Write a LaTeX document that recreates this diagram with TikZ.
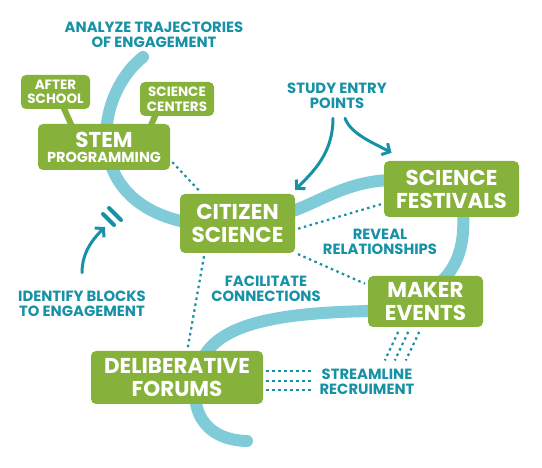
\documentclass[tikz,border=0pt]{standalone}
\usepackage{fontspec}
\setmainfont{Poppins}
\usetikzlibrary{arrows.meta,calc}
\definecolor{Leaf}{HTML}{86B13A}
\definecolor{Sky}{HTML}{7FCBD8}
\definecolor{Ocean}{HTML}{1791A6}

\begin{document}
\begin{tikzpicture}[x=1pt,y=-1pt,>={Straight Barb[length=6pt,width=13pt]},
    box/.style={fill=Leaf,rounded corners=5pt,text=white,align=center,inner sep=2pt,font=\bfseries\fontsize{21.5}{23}\selectfont},
    tag/.style={box,font=\bfseries\fontsize{13.5}{14.5}\selectfont},
    note/.style={text=Ocean,align=center,inner sep=0pt,font=\bfseries\fontsize{14.8}{15.5}\selectfont},
    link/.style={Ocean,line width=2.2pt,dash pattern=on 2.5pt off 3.5pt,shorten <=3pt,shorten >=3pt},
    pointer/.style={Ocean,line width=3pt,line cap=round,->},
    tail/.style={Leaf,line width=6pt,shorten <=-2pt,shorten >=-2pt},
    bar/.style={Ocean,line width=4pt,line cap=round},
    trail/.style={Sky,line width=12pt,line cap=round,line join=round}]
  \useasboundingbox (0,0) rectangle (542,468);
  % the winding trail behind the boxes
  \draw[trail] (143,57) .. controls (95,95) and (80,200) .. (185,222) -- (290,212)
    .. controls (320,202) and (345,182) .. (390,180) -- (462,200)
    .. controls (466,235) and (462,262) .. (441,282) -- (368,311)
    .. controls (290,313) and (215,320) .. (200,365)
    .. controls (185,410) and (205,440) .. (247,441);
  % boxes
  \node[tag,minimum width=69pt,minimum height=34pt] (after) at (55.5,92) {AFTER\\SCHOOL};
  \node[tag,minimum width=74pt,minimum height=34pt] (centers) at (177,99) {SCIENCE\\CENTERS};
  \node[box,minimum width=132pt,minimum height=46pt] (stem) at (104,147) {STEM\\[-8pt]{\fontsize{14.5}{15}\selectfont PROGRAMMING}};
  \node[box,minimum width=115pt,minimum height=59pt] (citizen) at (237.5,223.5) {CITIZEN\\SCIENCE};
  \node[box,minimum width=135pt,minimum height=56pt] (festivals) at (451.5,189) {SCIENCE\\FESTIVALS};
  \node[box,minimum width=115pt,minimum height=51pt] (maker) at (425.5,301.5) {MAKER\\EVENTS};
  \node[box,minimum width=172pt,minimum height=53pt] (forums) at (177,377.5) {DELIBERATIVE\\FORUMS};
  \draw[tail] (after.-63) -- (stem.145);
  \draw[tail] (centers.218) -- (stem.26);
  % labels
  \node[note] (analyze) at (154,35) {ANALYZE TRAJECTORIES\\OF ENGAGEMENT};
  \node[note] (study) at (337,96) {STUDY ENTRY\\POINTS};
  \node[note] (reveal) at (380,242) {REVEAL\\RELATIONSHIPS};
  \node[note] (facilitate) at (266,289) {FACILITATE\\CONNECTIONS};
  \node[note] (identify) at (82,304) {IDENTIFY BLOCKS\\TO ENGAGEMENT};
  \node[note] (streamline) at (367,382) {STREAMLINE\\RECRUIMENT};
  % dotted links
  \draw[link] (stem.-11) -- (citizen.140);
  \draw[link] (citizen.222) -- (forums.69);
  \draw[link] (citizen.-6) -- (festivals.192);
  \draw[link] (citizen.-27) -- (maker.164);
  \foreach \dx in {-26,-16,-5}
    \draw[link] ($(maker.south)+(\dx,2)$) -- ($(maker.south)+(\dx-16,36)$);
  \foreach \dy in {-6.5,3.5,12.5}
    \draw[link] ($(forums.east)+(0,\dy)$) -- ($(forums.east)+(52,\dy)$);
  % arrows
  \coordinate (blocktip) at (105,227);
  \draw[bar] (103,214) -- (114,225);
  \draw[bar] (109,208) -- (121,220);
  \draw[pointer] ([yshift=18pt]identify.north) .. controls +(0,-22) and +(-10,10) .. (blocktip);
  \draw[pointer] ([xshift=-4pt,yshift=-9pt]study.south) .. controls +(0,35) and +(18,-18) .. ([yshift=4pt]citizen.north east);
  \draw[pointer] ([xshift=8pt,yshift=-9pt]study.south) .. controls +(6,16) and +(-18,-10) .. ([xshift=-60pt,yshift=8pt]festivals.north);
\end{tikzpicture}
\end{document}
